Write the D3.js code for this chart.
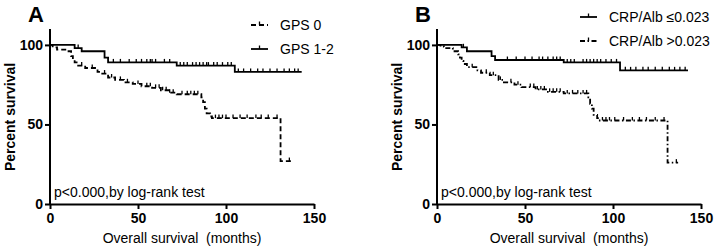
<!DOCTYPE html>
<html>
<head>
<meta charset="utf-8">
<script src="https://cdn.jsdelivr.net/npm/d3@7"></script>
<style>
	body { margin: 0; background: #fff; }
	svg { font-family: "Liberation Sans", Arial, sans-serif; }
</style>
</head>
<body>
<div id="chart"></div>
<script>
// Panel A: GPS groups (step points: time in months, percent survival)
var gps0Times = [0, 1.5, 4, 10, 12, 13, 14, 16, 20, 27, 29, 33, 37, 42, 47, 52, 58, 63, 68, 72, 86, 87, 88, 89, 91, 92, 131, 137];
var gps0Surv  = [100, 98.5, 97, 96, 93, 91, 89, 87, 85.5, 83, 82, 79.5, 78, 76.5, 75.5, 74, 73, 71.5, 70, 69, 67, 64, 60, 57, 55, 54, 27, 27];
var gps0Censor = [18, 24, 31, 35, 40, 44, 50, 55, 57, 60, 62, 64, 66, 68, 70, 75, 78, 80, 82, 84, 94, 96, 98, 100, 104, 108, 112, 117, 120, 124, 129, 136];

var gps12Times = [0, 14, 18, 31, 33, 72, 105, 143];
var gps12Surv  = [100, 98, 96, 92, 89, 87, 83, 83];
var gps12Censor = [16, 36, 40, 45, 49, 52, 55, 57, 58, 60, 65, 68, 74, 76, 78, 81, 83, 85, 87, 89, 90, 93, 95, 98, 101, 103, 107, 110, 114, 118, 121, 125, 129, 133, 136, 139, 141];

// Panel B: CRP/Alb groups
var crpLowTimes = [0, 14, 17, 31, 33, 72, 104, 142.6];
var crpLowSurv  = [100, 98.5, 96, 93, 90.5, 89, 84, 84];
var crpLowCensor = [15, 40, 45, 50, 54, 58, 60, 63, 66, 68, 70, 74, 76, 78, 83, 85, 87, 89, 91, 93, 96, 99, 102, 107, 110, 113, 117, 120, 124, 128, 132, 135, 138, 141];

var crpHighTimes = [0, 2, 4, 9, 12, 13, 14, 15, 17, 23, 25, 30, 35, 38, 44, 48, 56, 63, 72, 86, 87, 88, 89, 91, 92, 131, 137];
var crpHighSurv  = [100, 99, 98, 96, 94, 92, 90, 88, 86, 84, 82.5, 81, 78, 76.5, 75, 73.5, 72, 70.5, 69.5, 67, 63, 60, 56, 54, 52.5, 26, 26];
var crpHighCensor = [20, 28, 32, 36, 42, 46, 53, 55, 57, 59, 61, 64, 66, 68, 70, 74, 77, 80, 83, 85, 94, 96, 98, 101, 106, 111, 115, 119, 124, 129, 136];

var xTicks = [0, 50, 100, 150];
var yTicks = [0, 50, 100];

var svg = d3.select("#chart").append("svg")
	.attr("width", 714)
	.attr("height", 250);

function zip(times, surv) {
	return times.map(function (t, i) { return { t: t, s: surv[i] }; });
}

// survival value at a given time for a step curve
function survAt(data, t) {
	var s = data[0].s;
	data.forEach(function (d) { if (d.t <= t) s = d.s; });
	return s;
}

/**
 * Renders one Kaplan-Meier panel
 */
function renderPanel(opts) {
	var g = svg.append("g");
	var x = d3.scaleLinear().domain([0, 150]).range([opts.left, opts.left + 264]);
	var y = d3.scaleLinear().domain([0, 110]).range([204, 29]);

	// axes
	var xAxis = g.append("g")
		.attr("transform", "translate(0,204)")
		.call(d3.axisBottom(x).tickValues(xTicks).tickSize(5).tickSizeOuter(0));
	var yAxis = g.append("g")
		.attr("transform", "translate(" + opts.left + ",0)")
		.call(d3.axisLeft(y).tickValues(yTicks).tickSize(5).tickSizeOuter(0));

	[xAxis, yAxis].forEach(function (a) {
		a.select(".domain").attr("stroke", "#000").attr("stroke-width", 2);
		a.selectAll(".tick line").attr("stroke", "#000").attr("stroke-width", 2);
		a.selectAll(".tick text")
			.attr("fill", "#000")
			.style("font-size", "14px")
			.style("font-weight", "bold")
			.style("font-family", "'Liberation Sans', Arial, sans-serif");
	});
	xAxis.selectAll(".tick text").attr("y", 9);
	yAxis.selectAll(".tick text").attr("x", -7);

	// y axis reaches up to 110
	yAxis.select(".domain").attr("d", "M0," + y(110) + "V" + y(0));

	var line = d3.line()
		.x(function (d) { return x(d.t); })
		.y(function (d) { return y(d.s); })
		.curve(d3.curveStepAfter);

	opts.series.forEach(function (ser) {
		var data = zip(ser.times, ser.surv);
		g.append("path")
			.datum(data)
			.attr("fill", "none")
			.attr("stroke", "#000")
			.attr("stroke-width", 1.8)
			.attr("stroke-dasharray", ser.dash)
			.attr("d", line);

		// censor ticks
		g.selectAll(null)
			.data(ser.censor)
			.enter().append("line")
			.attr("x1", function (t) { return x(t); })
			.attr("x2", function (t) { return x(t); })
			.attr("y1", function (t) { return y(survAt(data, t)); })
			.attr("y2", function (t) { return y(survAt(data, t)) - 3.5; })
			.attr("stroke", "#000")
			.attr("stroke-width", 1.3);

		// legend entry
		var ly = ser.legendY;
		g.append("line")
			.attr("x1", opts.legendX).attr("x2", opts.legendX + 17)
			.attr("y1", ly).attr("y2", ly)
			.attr("stroke", "#000")
			.attr("stroke-width", 1.8)
			.attr("stroke-dasharray", ser.dash);
		g.append("line")
			.attr("x1", opts.legendX + 8.5).attr("x2", opts.legendX + 8.5)
			.attr("y1", ly).attr("y2", ly - 3.5)
			.attr("stroke", "#000")
			.attr("stroke-width", 1.3);
		g.append("text")
			.attr("x", opts.legendX + 29)
			.attr("y", ly + 5)
			.style("font-size", "14px")
			.text(ser.name);
	});

	// panel letter
	g.append("text")
		.attr("x", opts.left - 22)
		.attr("y", 22)
		.style("font-size", "22px")
		.style("font-weight", "bold")
		.text(opts.letter);

	// axis titles
	g.append("text")
		.attr("x", opts.left + 132)
		.attr("y", 243)
		.attr("text-anchor", "middle")
		.style("font-size", "14px")
		.style("white-space", "pre")
		.text("Overall survival  (months)");

	g.append("text")
		.attr("transform", "translate(" + (opts.left - 35) + ",117) rotate(-90)")
		.attr("text-anchor", "middle")
		.style("font-size", "14px")
		.style("font-weight", "bold")
		.text("Percent survival");

	g.append("text")
		.attr("x", opts.left + 4)
		.attr("y", 197)
		.style("font-size", "14px")
		.text("p<0.000,by log-rank test");
}

renderPanel({
	left: 50,
	letter: "A",
	legendX: 251,
	series: [
		{ name: "GPS 0", times: gps0Times, surv: gps0Surv, censor: gps0Censor, dash: "5,3", legendY: 25 },
		{ name: "GPS 1-2", times: gps12Times, surv: gps12Surv, censor: gps12Censor, dash: null, legendY: 49 }
	]
});

renderPanel({
	left: 437,
	letter: "B",
	legendX: 580,
	series: [
		{ name: "CRP/Alb ≤0.023", times: crpLowTimes, surv: crpLowSurv, censor: crpLowCensor, dash: null, legendY: 17 },
		{ name: "CRP/Alb >0.023", times: crpHighTimes, surv: crpHighSurv, censor: crpHighCensor, dash: "5,2.5,1.5,2.5", legendY: 41 }
	]
});
</script>
</body>
</html>
